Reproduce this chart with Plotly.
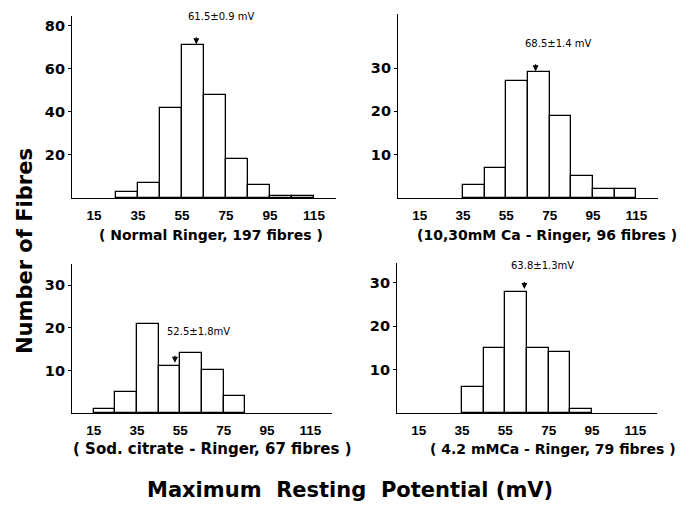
import plotly.graph_objects as go

# ---- data ----
bins1 = [30, 40, 50, 60, 70, 80, 90, 100, 110]
counts1 = [3, 7, 42, 71, 48, 18, 6, 1, 1]
bins2 = [40, 50, 60, 70, 80, 90, 100, 110]
counts2 = [3, 7, 27, 29, 19, 5, 2, 2]
bins3 = [20, 30, 40, 50, 60, 70, 80]
counts3 = [1, 5, 21, 11, 14, 10, 4]
bins4 = [40, 50, 60, 70, 80, 90]
counts4 = [6, 15, 28, 15, 14, 1]

xticks = [15, 35, 55, 75, 95, 115]
subtitles = ["( Normal Ringer, 197 fibres )",
             "(10,30mM Ca - Ringer, 96 fibres )",
             "( Sod. citrate - Ringer, 67 fibres )",
             "( 4.2 mMCa - Ringer, 79 fibres )"]
means = [61.5, 68.5, 52.5, 63.8]
mean_labels = ["61.5±0.9 mV", "68.5±1.4 mV", "52.5±1.8mV", "63.8±1.3mV"]
yticks = [[20, 40, 60, 80], [10, 20, 30], [10, 20, 30], [10, 20, 30]]
yranges = [84.6, 42.5, 35, 34.6]

FONT = "Liberation Sans"
WFONT = "DejaVu Sans"
W, H = 693, 505

# pixel layout of panels: (left, right, top, bottom)
panels = [(72, 336, 16, 198), (398, 658, 14, 198),
          (72, 332, 264, 413), (397, 657, 263, 413)]

fig = go.Figure()
data = [(bins1, counts1), (bins2, counts2), (bins3, counts3), (bins4, counts4)]
for i, (bx, cy) in enumerate(data):
    n = "" if i == 0 else str(i + 1)
    fig.add_trace(go.Bar(x=bx, y=cy, width=10, xaxis="x" + n, yaxis="y" + n,
                         marker=dict(color="white", line=dict(color="black", width=1.3)),
                         showlegend=False))
    l, r, t, b = panels[i]
    fig.layout["xaxis" + n] = dict(
        domain=[l / W, r / W], range=[5, 125], anchor="y" + n,
        tickvals=xticks, ticktext=[str(v) for v in xticks],
        showline=True, linecolor="black", linewidth=1.2, showgrid=False, zeroline=False,
        ticks="outside", ticklen=5, tickcolor="rgba(0,0,0,0)",
        tickfont=dict(family=FONT, size=13.5, color="black", weight="bold"))
    fig.layout["yaxis" + n] = dict(
        domain=[1 - b / H, 1 - t / H], range=[0, yranges[i]], anchor="x" + n,
        tickvals=yticks[i], showline=True, linecolor="black", linewidth=1.2,
        showgrid=False, zeroline=False, ticks="outside", ticklen=3, tickcolor="black",
        tickfont=dict(family=WFONT, size=14.5, color="black", weight="bold"))

# subtitles
sub_pos = [(0.525, -37), (0.573, -37), (0.54, -36), (0.6, -36)]
sub_sizes = [14, 14, 15, 14]
for i, s in enumerate(subtitles):
    n = "" if i == 0 else str(i + 1)
    fig.add_annotation(text=s, xref="x" + n + " domain", yref="y" + n + " domain",
                       x=sub_pos[i][0], y=0, yshift=sub_pos[i][1], showarrow=False,
                       xanchor="center", yanchor="middle",
                       font=dict(family=WFONT, size=sub_sizes[i], color="black", weight="bold"))

# mean arrows and labels
tips = [71.5, 29.3, 11.8, 28.6]
label_xy = [(72.7, 84.6), (78.7, 35.8), (63.5, 19.2), (72.3, 34.0)]
for i in range(4):
    n = "" if i == 0 else str(i + 1)
    fig.add_annotation(x=means[i], y=tips[i], xref="x" + n, yref="y" + n,
                       text=" ", showarrow=True, ax=0, ay=-17,
                       arrowhead=2, arrowsize=1, arrowwidth=1.2, arrowcolor="black",
                       standoff=0)
    fig.add_annotation(x=label_xy[i][0], y=label_xy[i][1], xref="x" + n, yref="y" + n,
                       text=mean_labels[i], showarrow=False,
                       xanchor="center", yanchor="middle",
                       font=dict(family=WFONT, size=10, color="black"))

fig.add_annotation(text="Number of Fibres", xref="paper", yref="paper",
                   x=25 / W, y=1 - 251 / H, textangle=-90, showarrow=False,
                   xanchor="center", yanchor="middle",
                   font=dict(family=WFONT, size=21, color="black", weight="bold"))
fig.add_annotation(text="Maximum  Resting  Potential (mV)", xref="paper", yref="paper",
                   x=350 / W, y=1 - 490 / H, showarrow=False,
                   xanchor="center", yanchor="middle",
                   font=dict(family=WFONT, size=21, color="black", weight="bold"))

fig.update_layout(width=W, height=H, margin=dict(l=0, r=0, t=0, b=0),
                  paper_bgcolor="white", plot_bgcolor="white", bargap=0)
fig.write_html("out.html")
